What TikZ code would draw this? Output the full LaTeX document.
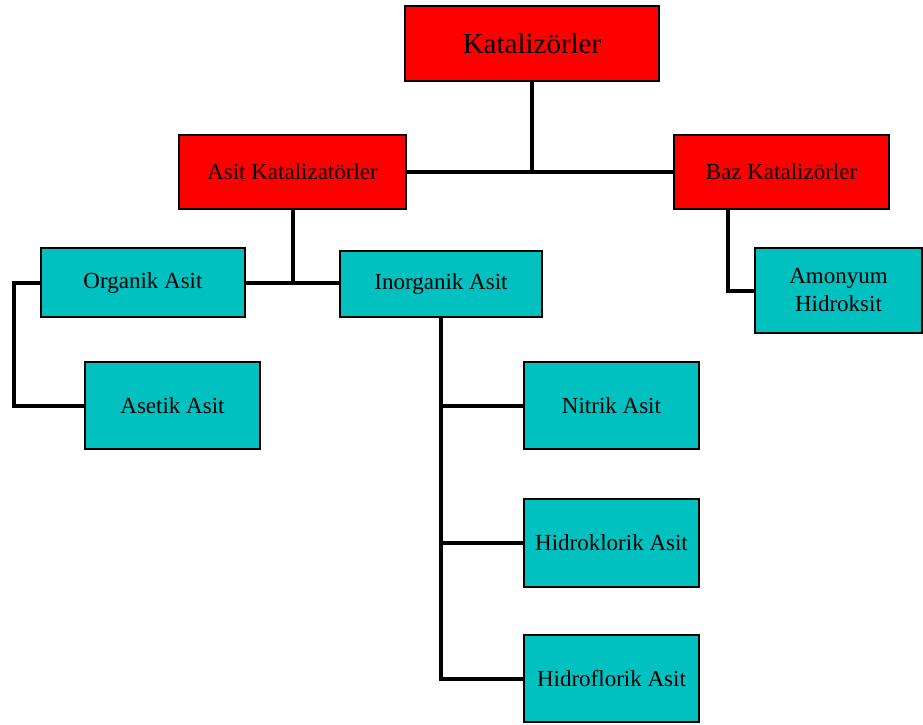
\documentclass[tikz,border=0pt]{standalone}
\usepackage{fontspec}
\setmainfont{Liberation Serif}
\definecolor{boxred}{RGB}{255,0,0}
\definecolor{boxteal}{RGB}{0,192,192}
\begin{document}
\begin{tikzpicture}[x=1pt,y=-1pt,
  box/.style={draw=black,line width=1.5pt,inner sep=0pt,align=center,
    font=\fontsize{23}{28}\selectfont},
  redbox/.style={box,fill=boxred},
  tealbox/.style={box,fill=boxteal},
  link/.style={line width=4pt,line join=miter}]
\useasboundingbox (0,0) rectangle (923,725);

% top level
\node[redbox,minimum width=254pt,minimum height=75pt,
  font=\fontsize{29}{34}\selectfont] (kat) at (532,43.5) {Katalizörler};
% second level
\node[redbox,minimum width=227pt,minimum height=74pt] (asit) at (292.5,172) {Asit Katalizatörler};
\node[redbox,minimum width=215pt,minimum height=74pt] (baz) at (781.5,172) {Baz Katalizörler};
% acid groups
\node[tealbox,minimum width=204pt,minimum height=69pt] (org) at (143,282.5) {Organik Asit};
\node[tealbox,minimum width=202pt,minimum height=66pt] (inorg) at (441,284) {Inorganik Asit};
\node[tealbox,minimum width=167pt,minimum height=85pt] (amon) at (838.5,290.5) {Amonyum\\Hidroksit};
% leaves
\node[tealbox,minimum width=175pt,minimum height=87pt] (aset) at (172.5,405.5) {Asetik Asit};
\node[tealbox,minimum width=175pt,minimum height=87pt] (nit) at (611.5,405.5) {Nitrik Asit};
\node[tealbox,minimum width=175pt,minimum height=88pt] (hcl) at (611.5,543) {Hidroklorik Asit};
\node[tealbox,minimum width=175pt,minimum height=87pt] (hf) at (611.5,678.5) {Hidroflorik Asit};

% junction points
\coordinate (jtop) at (kat.south |- asit.east);
\coordinate (jmid) at (asit.south |- org.east);
\coordinate (jorg) at (14,0);
\coordinate (jin) at (inorg.south);
\coordinate (jbaz) at (728,0);

% connectors
\draw[link] (kat.south) -- (jtop);
\draw[link] (asit.east) -- (baz.west);
\draw[link] (asit.south) -- (jmid);
\draw[link] (org.east) -- (org.east -| inorg.west);
\draw[link] (org.west) -- (org.west -| jorg) -- (jorg |- aset.west) -- (aset.west);
\draw[link] (jin) -- (jin |- hf.west) -- (hf.west);
\draw[link] (jin |- nit.west) -- (nit.west);
\draw[link] (jin |- hcl.west) -- (hcl.west);
\draw[link] (jbaz |- baz.south) -- (jbaz |- amon.west) -- (amon.west);
\end{tikzpicture}
\end{document}
